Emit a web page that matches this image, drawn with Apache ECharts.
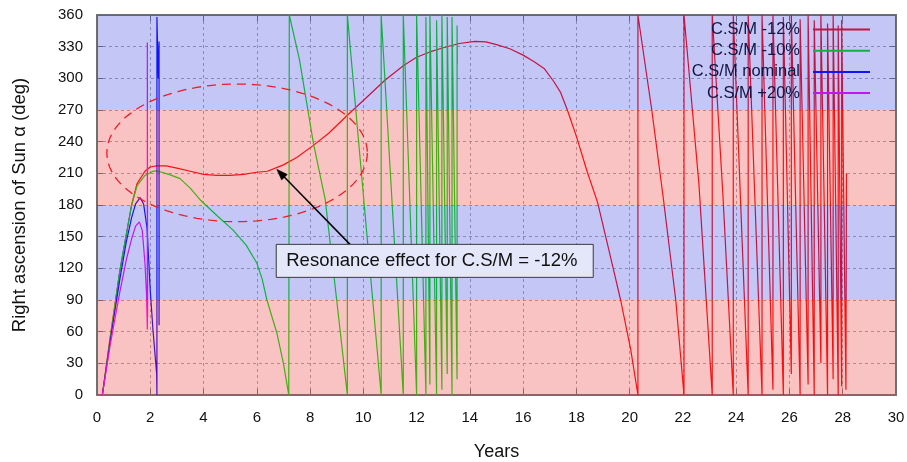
<!DOCTYPE html>
<html>
<head>
<meta charset="utf-8">
<script src="https://cdn.jsdelivr.net/npm/echarts@6/dist/echarts.min.js"></script>
<style>
  html, body { margin: 0; padding: 0; background: #ffffff; }
  #chart { width: 907px; height: 462px; }
</style>
</head>
<body>
<div id="chart"></div>
<script>
// Axis ranges and tick spacing
const yearRange = [0, 30];
const yearStep = 2;
const raRange = [0, 360];
const raStep = 30;

// Legend names and line colours
const seriesNames = ['C.S/M -12%', 'C.S/M -10%', 'C.S/M nominal', 'C.S/M +20%'];
const seriesColors = ['#ff0000', '#00e000', '#0000ff', '#ff00ff'];

// Right ascension of the Sun (deg) against time (years), one list per C.S/M case
const csmMinus12 = [
  [0.2, 0], [0.5, 55], [0.86, 118], [1.1, 152], [1.3, 180], [1.5, 200], [1.8, 212], [2.0, 216],
  [2.24, 217], [2.6, 217], [3.0, 215], [3.5, 212], [4.0, 209], [4.5, 208], [5.0, 208], [5.5, 209],
  [6.0, 211], [6.4, 212], [7.0, 218], [7.5, 225], [8.1, 236], [8.7, 248], [9.4, 265], [10.0, 279],
  [10.8, 298], [11.5, 312], [12.0, 320], [12.5, 325], [13.0, 329], [13.6, 333], [14.2, 335], [14.6, 334.5],
  [15.0, 332], [15.5, 328], [16.0, 322], [16.4, 316], [16.8, 309], [17.15, 297], [17.4, 287], [17.66, 270],
  [18.0, 245], [18.4, 212], [18.8, 182], [19.1, 150], [19.4, 118], [19.66, 90], [20.04, 43], [20.31, 0],
  [20.31, 360], [20.83, 270], [21.27, 185], [21.73, 90], [22.04, 0],
  [22.04, 360], [22.6, 200], [23.1, 0],
  [23.1, 360], [23.5, 190], [23.89, 0],
  [23.89, 360], [24.45, 0],
  [24.45, 360], [24.97, 0],
  [24.97, 360], [25.38, 5],
  [25.38, 360], [25.77, 0],
  [25.77, 358], [26.07, 20],
  [26.07, 360], [26.4, 0],
  [26.4, 356], [26.7, 10],
  [26.7, 360], [26.93, 0],
  [26.93, 355], [27.18, 30],
  [27.18, 360], [27.43, 0],
  [27.43, 352], [27.64, 15],
  [27.64, 360], [27.83, 0],
  [27.83, 350], [27.96, 8],
  [27.96, 355], [28.12, 5], [28.14, 210]
];
const csmMinus10 = [
  [0.2, 0], [0.5, 55], [0.86, 118], [1.1, 152], [1.3, 180], [1.5, 198], [1.8, 208], [2.1, 212],
  [2.3, 212], [2.7, 209], [3.12, 205], [3.5, 196], [3.87, 185], [4.5, 170], [5.12, 156], [5.6, 142],
  [6.0, 125], [6.2, 110], [6.38, 90], [6.75, 59], [7.0, 30], [7.2, 0],
  [7.22, 360], [7.6, 318], [8.13, 238], [8.57, 185], [9.0, 90], [9.4, 0],
  [9.4, 360], [10.67, 0],
  [10.67, 360], [11.5, 0],
  [11.5, 360], [12.0, 0],
  [12.0, 360], [12.35, 0],
  [12.35, 358], [12.5, 10],
  [12.5, 360], [12.75, 0],
  [12.75, 355], [12.95, 5],
  [12.95, 360], [13.15, 20],
  [13.15, 358], [13.33, 0],
  [13.33, 358], [13.52, 15],
  [13.52, 350], [13.53, 314]
];
const csmNominal = [
  [0.2, 0], [0.5, 52], [0.86, 110], [1.1, 145], [1.3, 168], [1.45, 181], [1.62, 187], [1.75, 181],
  [1.88, 158], [2.0, 99], [2.1, 62], [2.18, 38], [2.24, 20], [2.25, 0], [2.25, 358], [2.3, 300],
  [2.33, 335], [2.33, 66]
];
const csmPlus20 = [
  [0.2, 0], [0.5, 48], [0.86, 98], [1.1, 128], [1.3, 148], [1.45, 160], [1.59, 164], [1.7, 156],
  [1.8, 125], [1.86, 95], [1.89, 62], [1.89, 334], [1.9, 74]
];
const seriesData = [csmMinus12, csmMinus10, csmNominal, csmPlus20];

// Quadrant bands (deg), laid over the curves as translucent tints
const bandLows = [0, 90, 180, 270];
const bandHighs = [90, 180, 270, 360];
const bandTints = ['rgba(235,55,58,0.3)', 'rgba(58,65,225,0.3)', 'rgba(235,55,58,0.3)', 'rgba(58,65,225,0.3)'];

// Annotation text and anchor points (data coordinates)
const noteText = 'Resonance effect for C.S/M = -12%';
const ringCenter = [5.26, 229.4];
const ringRadii = [4.89, 65.2];
const noteBoxCorner = [6.73, 142.7];
const arrowTail = [9.5, 142.7];
const arrowTip = [6.75, 213.8];

const FONT = '"Liberation Sans", Arial, Helvetica, sans-serif';
const frameColor = '#707070';

const chart = echarts.init(document.getElementById('chart'), null, { renderer: 'canvas' });

function valueAxis(extra) {
  return Object.assign({
    type: 'value',
    axisLine: { show: true, onZero: false, lineStyle: { color: frameColor, width: 2 } },
    axisTick: { show: true, inside: true, length: 6, lineStyle: { color: frameColor, width: 1 } },
    splitLine: { show: false },
    axisLabel: { show: false }
  }, extra);
}

const option = {
  animation: false,
  backgroundColor: '#ffffff',
  grid: { left: 97, right: 11, top: 15, bottom: 67, containLabel: false, outerBoundsMode: 'none' },
  legend: {
    data: seriesNames,
    orient: 'vertical',
    right: 37,
    top: 21,
    padding: 0,
    align: 'right',
    icon: 'rect',
    itemWidth: 57,
    itemHeight: 2,
    itemGap: 4.2,
    selectedMode: false,
    textStyle: { fontFamily: FONT, fontSize: 16.5, color: '#000000', lineHeight: 16, padding: [0, 8, 0, 0] }
  },
  xAxis: [
    valueAxis({
      min: yearRange[0], max: yearRange[1], interval: yearStep, position: 'bottom',
      axisLabel: { show: true, fontFamily: FONT, fontSize: 15, color: '#111111', margin: 15 },
      splitLine: { show: true, lineStyle: { color: '#a8a8a8', width: 1, type: [3, 3] } },
      name: 'Years', nameLocation: 'middle', nameGap: 48,
      nameTextStyle: { fontFamily: FONT, fontSize: 18, color: '#111111' }
    }),
    valueAxis({ min: yearRange[0], max: yearRange[1], interval: yearStep, position: 'top' })
  ],
  yAxis: [
    valueAxis({
      min: raRange[0], max: raRange[1], interval: raStep, position: 'left',
      axisLabel: { show: true, fontFamily: FONT, fontSize: 15, color: '#111111', margin: 14 },
      splitLine: { show: true, lineStyle: { color: '#a8a8a8', width: 1, type: [3, 3] } },
      name: 'Right ascension of Sun α (deg)', nameLocation: 'middle', nameGap: 68,
      nameTextStyle: { fontFamily: FONT, fontSize: 18.5, color: '#111111' }
    }),
    valueAxis({ min: raRange[0], max: raRange[1], interval: raStep, position: 'right' })
  ],
  series: seriesData.map((pts, i) => ({
    name: seriesNames[i],
    type: 'line',
    data: pts,
    xAxisIndex: 0,
    yAxisIndex: 0,
    symbol: 'none',
    smooth: false,
    z: 2 + i * 0.01,
    lineStyle: { color: seriesColors[i], width: 1.2 },
    itemStyle: { color: seriesColors[i] },
    emphasis: { disabled: true }
  })).concat([{
    type: 'custom',
    xAxisIndex: 0,
    yAxisIndex: 0,
    z: 10,
    silent: true,
    clip: true,
    encode: { x: 2, y: [0, 1] },
    data: bandLows.map((lo, i) => [lo, bandHighs[i], i]),
    renderItem: function (params, api) {
      const lo = api.value(0), hi = api.value(1), k = api.value(2);
      const p0 = api.coord([yearRange[0], hi]);
      const p1 = api.coord([yearRange[1], lo]);
      return {
        type: 'rect',
        shape: { x: p0[0], y: p0[1], width: p1[0] - p0[0], height: p1[1] - p0[1] },
        style: { fill: bandTints[k] }
      };
    }
  }])
};

chart.setOption(option);

// Annotation: dashed ring, arrow and note box, placed through the axes
const toPx = (p) => chart.convertToPixel({ xAxisIndex: 0, yAxisIndex: 0 }, p);
const c = toPx(ringCenter);
const edge = toPx([ringCenter[0] + ringRadii[0], ringCenter[1] + ringRadii[1]]);
const rx = Math.abs(edge[0] - c[0]);
const ry = Math.abs(edge[1] - c[1]);
const ringPts = [];
for (let k = 0; k < 120; k++) {
  const t = (k / 120) * Math.PI * 2;
  ringPts.push([c[0] + rx * Math.cos(t), c[1] + ry * Math.sin(t)]);
}

const tip = toPx(arrowTip);
const tail = toPx(arrowTail);
const dx = tip[0] - tail[0], dy = tip[1] - tail[1];
const len = Math.hypot(dx, dy);
const ux = dx / len, uy = dy / len;
const headLen = 11, headHalf = 4;
const base = [tip[0] - ux * headLen, tip[1] - uy * headLen];
const head = [
  tip,
  [base[0] - uy * headHalf, base[1] + ux * headHalf],
  [base[0] + uy * headHalf, base[1] - ux * headHalf]
];

const box = toPx(noteBoxCorner);
const boxW = 317, boxH = 33;

chart.setOption({
  graphic: [
    {
      type: 'polygon', z: 20, silent: true,
      shape: { points: ringPts },
      style: { fill: 'none', stroke: '#ee1c24', lineWidth: 1.3, lineDash: [9, 6] }
    },
    {
      type: 'line', z: 21, silent: true,
      shape: { x1: tail[0], y1: tail[1], x2: base[0] + ux * 2, y2: base[1] + uy * 2 },
      style: { stroke: '#000000', lineWidth: 1.5 }
    },
    {
      type: 'polygon', z: 21, silent: true,
      shape: { points: head },
      style: { fill: '#000000', stroke: '#000000', lineWidth: 0.5 }
    },
    {
      type: 'rect', z: 22, silent: true,
      shape: { x: box[0], y: box[1], width: boxW, height: boxH },
      style: { fill: '#e4e6fa', stroke: '#3a3a3a', lineWidth: 1 }
    },
    {
      type: 'text', z: 23, silent: true,
      x: box[0] + 10, y: box[1] + boxH / 2 + 0.5,
      style: {
        text: noteText, fill: '#111111', font: '18.5px ' + FONT,
        textAlign: 'left', textVerticalAlign: 'middle'
      }
    }
  ]
});
</script>
</body>
</html>
